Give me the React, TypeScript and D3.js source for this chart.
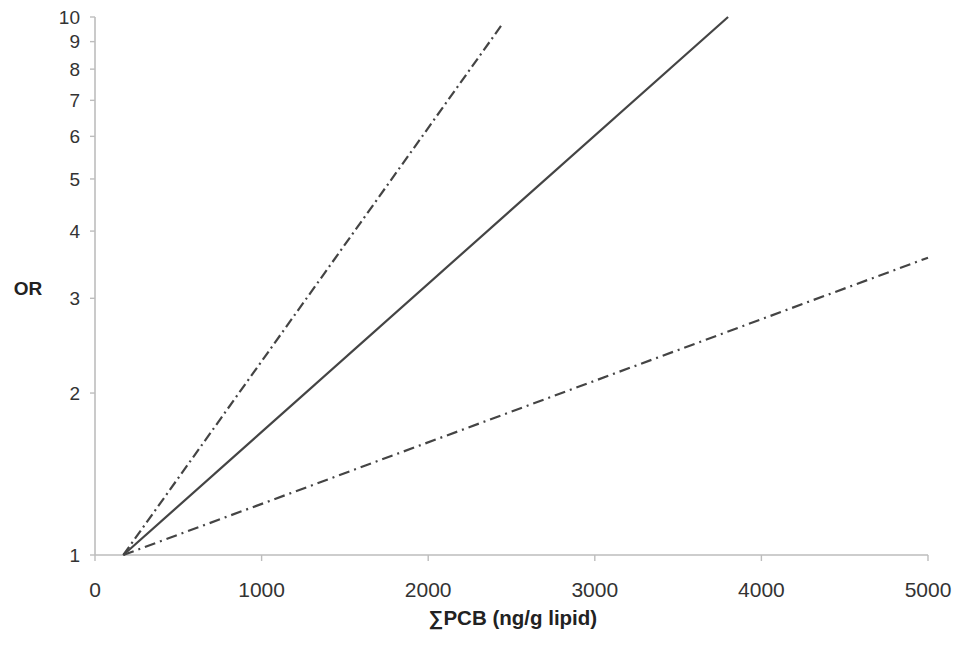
import React from "react";
import * as d3 from "d3";

// x values (ng/g lipid) and OR values for the three exposure-response lines
const upperX = [170, 2450];
const upperOR = [1, 9.75];
const centralX = [170, 3800];
const centralOR = [1, 10];
const lowerX = [170, 5000];
const lowerOR = [1, 3.57];

const xTicks = [0, 1000, 2000, 3000, 4000, 5000];
const yTicks = [1, 2, 3, 4, 5, 6, 7, 8, 9, 10];

const series = [
  { name: "upper", xs: upperX, ys: upperOR, dash: "10,4,2,4" },
  { name: "central", xs: centralX, ys: centralOR, dash: null },
  { name: "lower", xs: lowerX, ys: lowerOR, dash: "11,5,2,5" },
];

const App = () => {
  const w = 960;
  const h = 640;
  const left = 87; // svg is offset by body margin of 8
  const right = 920;
  const top = 9;
  const bottom = 547;

  const x = d3.scaleLinear().domain([0, 5000]).range([left, right]);
  const y = d3.scaleLog().domain([1, 10]).range([bottom, top]);

  const line = d3
    .line<[number, number]>()
    .x((d) => x(d[0]))
    .y((d) => y(d[1]));

  const axisColor = "#bdbdbd";
  const textColor = "#333";
  const font = "'Liberation Sans', Arial, sans-serif";

  return (
    <svg width={w} height={h} style={{ display: "block" }} fontFamily={font}>
      {/* y axis */}
      <line x1={left} x2={left} y1={y(10)} y2={bottom} stroke={axisColor} strokeWidth={1.6} />
      {yTicks.map((t) => (
        <g key={"y" + t}>
          <line x1={left - 5} x2={left} y1={y(t)} y2={y(t)} stroke={axisColor} strokeWidth={1.4} />
          <text
            x={left - 15}
            y={y(t)}
            dy="0.36em"
            textAnchor="end"
            fontSize={19}
            fill={textColor}
          >
            {t}
          </text>
        </g>
      ))}

      {/* x axis */}
      <line x1={left} x2={right} y1={bottom} y2={bottom} stroke={axisColor} strokeWidth={1.6} />
      {xTicks.map((t) => (
        <g key={"x" + t}>
          <line x1={x(t)} x2={x(t)} y1={bottom} y2={bottom + 6} stroke={axisColor} strokeWidth={1.4} />
          <text x={x(t)} y={bottom + 42} textAnchor="middle" fontSize={21} fill={textColor}>
            {t}
          </text>
        </g>
      ))}

      {/* lines */}
      {series.map((s) => (
        <path
          key={s.name}
          d={line(s.xs.map((v, i) => [v, s.ys[i]] as [number, number])) || ""}
          fill="none"
          stroke="#444"
          strokeWidth={2.2}
          strokeDasharray={s.dash || undefined}
        />
      ))}

      {/* axis titles */}
      <text x={20} y={280} dy="0.36em" textAnchor="middle" fontSize={19} fontWeight="bold" fill="#222">
        OR
      </text>
      <text x={505} y={617} textAnchor="middle" fontSize={20.5} fontWeight="bold" fill="#222">
        ∑PCB (ng/g lipid)
      </text>
    </svg>
  );
};

export default App;
